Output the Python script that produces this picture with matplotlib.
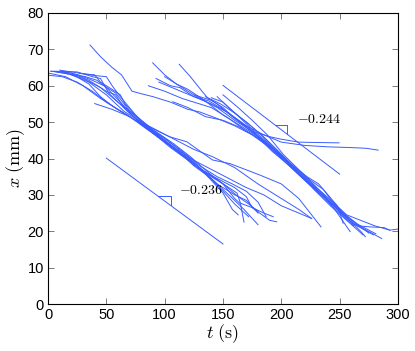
import matplotlib
matplotlib.use("Agg")
import matplotlib.pyplot as plt

plt.rcParams["mathtext.fontset"] = "cm"
plt.rcParams["font.family"] = ["Liberation Sans", "DejaVu Sans"]

# trajectories: (t in s, x in mm)
group_a = [
    [(0, 63.5), (15, 62.5), (30, 60), (45, 56.5), (60, 53.5), (75, 50.5), (90, 47), (105, 43.5), (120, 40), (135, 36), (150, 31), (160, 27.5), (172, 24)],
    [(2, 64), (20, 63.5), (35, 61.5), (50, 58.5), (58, 57.5), (65, 54), (80, 49.5), (95, 46), (110, 42.5), (125, 38), (140, 34.5), (155, 30), (168, 26), (180, 21.8)],
    [(5, 64), (25, 63.8), (38, 62.5), (45, 62), (52, 58), (68, 53), (83, 49), (100, 45), (118, 40.5), (132, 37), (148, 33.5), (162, 30.5), (165, 27.7), (175, 26.5), (190, 23), (196, 22.6)],
    [(10, 64.3), (28, 63.4), (40, 62.8), (50, 62.5), (55, 60), (62, 57), (75, 52), (90, 47.5), (108, 43), (125, 39.5), (140, 37), (155, 34.5), (170, 32), (185, 30), (200, 27), (215, 25), (226, 23.5)],
    [(15, 63.5), (30, 62), (45, 59.5), (58, 56), (72, 52.5), (88, 48.5), (104, 46), (119, 44.6), (141, 39.6), (156, 38.6), (182, 35.4), (200, 33), (215, 29), (234, 21.2)],
    [(20, 63), (35, 61), (50, 57.5), (65, 53), (80, 50), (95, 47.5), (110, 45), (125, 42.5), (141, 40.5), (160, 37.5), (180, 33), (200, 29), (215, 26), (226, 23.5)],
    [(40, 55.1), (55, 53.5), (70, 51.5), (85, 48), (100, 44.5), (115, 41), (130, 37.5), (145, 33), (160, 30), (170, 28.5), (180, 25)],
    [(8, 63.8), (22, 63), (35, 60.5), (45, 57), (55, 54.5), (70, 51.5), (85, 48.5), (100, 45.5), (112, 42.5), (125, 39), (140, 34), (150, 30.5), (158, 26), (163, 24.5)],
    [(27, 63.4), (40, 63), (45, 61), (55, 59), (62, 57.5), (66, 55), (80, 50), (95, 46), (110, 42), (125, 38.5), (140, 35), (150, 33), (160, 29), (165, 27.5), (168, 22.5)],
    [(0, 62.9), (12, 62.5), (25, 61), (38, 58.5), (50, 55.5), (62, 53), (75, 50.5), (90, 47), (105, 43), (118, 40), (130, 37), (145, 34.5), (160, 32), (170, 29.5), (175, 26.5), (185, 25), (193, 24)],
    [(3, 64), (18, 63.2), (32, 62.5), (42, 61.5), (50, 59.5), (62, 55.5), (78, 50), (92, 47.5), (108, 44), (122, 40.5), (138, 36), (152, 32.5), (163, 29.5), (172, 27.5), (180, 25.5)],
    [(12, 64), (26, 63), (38, 61.5), (48, 60), (58, 58), (70, 53), (85, 49), (100, 45.5), (115, 42), (130, 38), (145, 35), (158, 33), (170, 31), (180, 28), (187, 24)],
]

group_b = [
    [(89.7, 66.3), (100, 63), (110, 60.5), (120, 59), (131.7, 56.5), (136, 55.5), (150, 52), (165, 49), (180, 46), (195, 42), (210, 37.5), (225, 33), (240, 28.5), (255, 24), (268, 20), (272, 18.5)],
    [(112.5, 65.9), (122, 62.5), (132, 58.5), (137, 56.6), (145, 55), (158, 51.5), (172, 48.5), (188, 44), (203, 39.5), (218, 35), (233, 30.5), (248, 26), (262, 22), (279, 19)],
    [(92.6, 62), (105, 60), (113, 59.5), (125, 57), (138, 55.8), (150, 53.5), (163, 50.5), (178, 46.5), (192, 42), (207, 38), (222, 33.5), (238, 29), (252, 25), (266, 21.5), (286, 18)],
    [(86, 60), (100, 58.5), (115, 56.5), (130, 55), (140, 54), (155, 51), (168, 48), (183, 45), (197, 41), (212, 36.5), (228, 32), (244, 27.5), (258, 23), (265, 21.5), (276, 21.2), (288, 21), (293, 20.3), (300, 20.6)],
    [(36, 71.2), (45, 68), (55, 65), (63, 63), (68, 60.5), (72, 58.5), (80, 57.8), (90, 57), (105, 55.5), (120, 53.5), (130, 52.8), (145, 51), (160, 49), (175, 46.5), (190, 43), (205, 38.5), (220, 34), (235, 29.5), (250, 25), (262, 21.5)],
    [(107, 55.6), (120, 54), (135, 51.5), (150, 50.5), (165, 48.5), (178, 46), (192, 43), (205, 39.5), (220, 35), (235, 30.5), (248, 25), (259, 19.9)],
    [(100, 62.5), (115, 59.5), (130, 56.5), (145, 54), (160, 50.5), (175, 47.5), (190, 46), (200, 45.3), (215, 44.5), (230, 44.4), (249.5, 44.3)],
    [(95, 61), (110, 59), (125, 57), (140, 55), (155, 52.5), (170, 49), (185, 46.5), (200, 44.5), (220, 43.6), (240, 43.2), (260, 43), (273, 42.8), (283, 42.3)],
    [(125, 57.5), (140, 56), (150, 54), (160, 51), (172, 48), (185, 45), (198, 41.5), (212, 37), (226, 33), (240, 29), (253, 25), (263, 22.5), (275, 19.5)],
    [(140, 56.7), (150, 55.5), (162, 52), (175, 48), (188, 44.5), (200, 40.5), (212, 37.5), (225, 34), (236, 31.5), (244, 28), (255, 24.5), (265, 22), (281, 19.3)],
    [(145, 57), (158, 53), (170, 50), (183, 46.5), (196, 42.5), (210, 38), (222, 35), (232, 33), (240, 30), (248, 27), (253, 22.2)],
    [(150, 57.5), (163, 54), (175, 50.5), (188, 46.5), (202, 41), (218, 36), (232, 31.5), (246, 27.5), (256, 24.5), (268, 23), (280, 21.5), (293, 20.3)],
    [(135, 57), (148, 55), (160, 52.5), (172, 49.5), (186, 45.5), (200, 41), (214, 36.5), (228, 31.5), (242, 27), (256, 23), (270, 19)],
]

# reference slopes with their little step triangles
ref_a_t = [50, 150]
ref_a_x = [40.1, 16.5]
tri_a_t = [94.5, 105, 105]
tri_a_x = [29.6, 29.6, 27.1]
ref_b_t = [150, 250]
ref_b_x = [60.1, 35.7]
tri_b_t = [194.6, 204.6, 204.6]
tri_b_x = [49.1, 49.1, 46.7]

blue = "#3a5cff"

fig = plt.figure(figsize=(4.15, 3.51), dpi=100)
ax = fig.add_axes([48 / 415, 47 / 351, 350 / 415, 291 / 351])

for traj in group_a + group_b:
    t, x = zip(*traj)
    ax.plot(t, x, color=blue, lw=0.7)

ax.plot(ref_a_t, ref_a_x, color=blue, lw=0.7)
ax.plot(tri_a_t, tri_a_x, color=blue, lw=0.7)
ax.plot(ref_b_t, ref_b_x, color=blue, lw=0.7)
ax.plot(tri_b_t, tri_b_x, color=blue, lw=0.7)

ax.text(131, 31.3, r"$\mathrm{-0.236}$", ha="center", va="center", fontsize=10)
ax.text(232, 50.8, r"$\mathrm{-0.244}$", ha="center", va="center", fontsize=10)

ax.set_xlim(0, 300)
ax.set_ylim(0, 80)
ax.set_xticks(range(0, 301, 50))
ax.set_yticks(range(0, 81, 10))
ax.tick_params(direction="in", top=True, right=True, length=4, width=0.6,
               color="#666666", labelsize=10.5, pad=3)
for s in ax.spines.values():
    s.set_linewidth(0.8)

ax.set_xlabel(r"$t\ \mathrm{(s)}$", fontsize=13, labelpad=0)
ax.set_ylabel(r"$x\ \mathrm{(mm)}$", fontsize=13, labelpad=0)

fig.savefig("out.png", dpi=100)
